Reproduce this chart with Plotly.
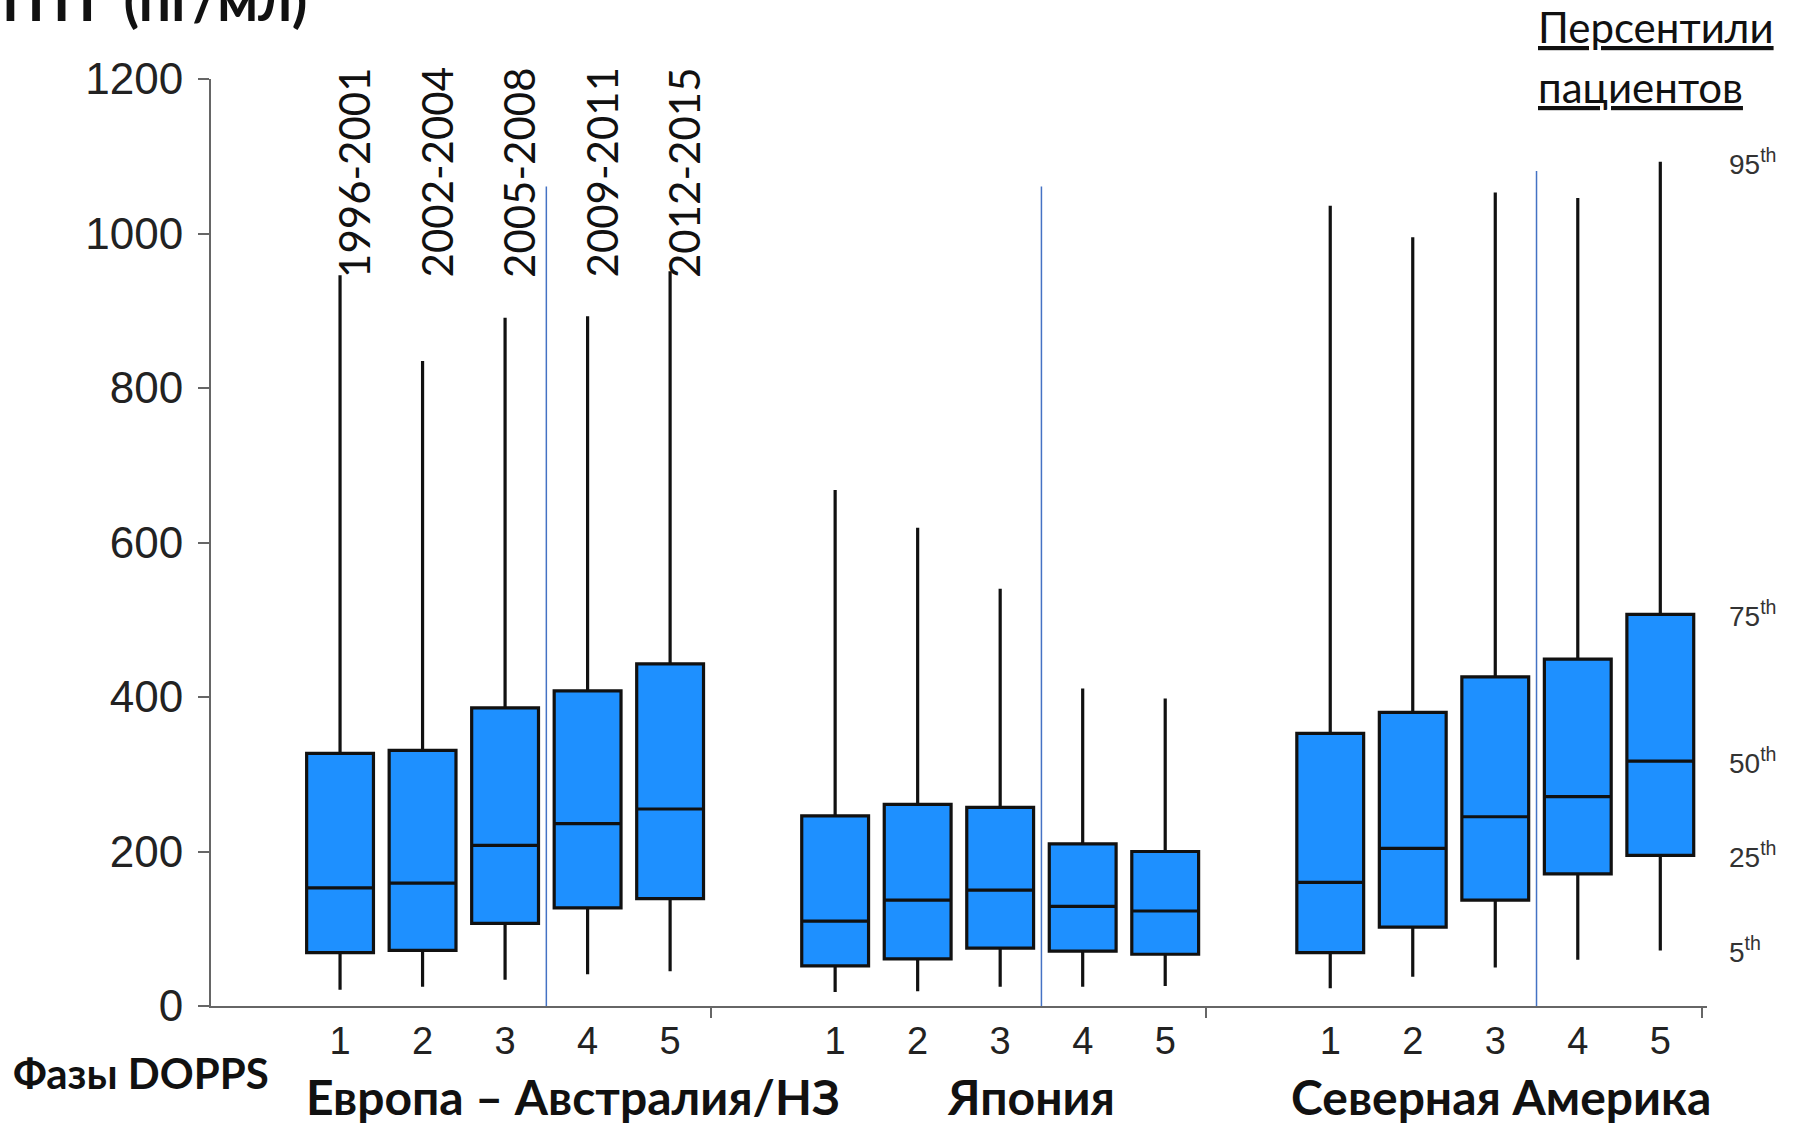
import plotly.graph_objects as go

# ---------------- data ----------------
regions = ["Европа – Австралия/НЗ", "Япония", "Северная Америка"]
phases = ["1", "2", "3", "4", "5"]
phase_years = ["1996-2001", "2002-2004", "2005-2008", "2009-2011", "2012-2015"]

# percentiles of PTH (pg/ml) per phase, for each region
eu_p5 = [21, 25, 34, 41, 45]
eu_p25 = [69, 72, 107, 127, 139]
eu_p50 = [153, 159, 208, 236, 255]
eu_p75 = [327, 331, 386, 408, 443]
eu_p95 = [946, 835, 891, 893, 951]

jp_p5 = [18, 19, 25, 25, 26]
jp_p25 = [52, 61, 75, 71, 67]
jp_p50 = [110, 137, 150, 129, 123]
jp_p75 = [246, 261, 257, 210, 200]
jp_p95 = [668, 619, 540, 411, 398]

na_p5 = [23, 38, 50, 60, 72]
na_p25 = [69, 102, 137, 171, 195]
na_p50 = [160, 204, 245, 271, 317]
na_p75 = [353, 380, 426, 449, 507]
na_p95 = [1036, 995, 1053, 1046, 1093]

percentile_names = ["95", "75", "50", "25", "5"]

y_ticks = [0, 200, 400, 600, 800, 1000, 1200]

# layout helpers (positions of groups on the continuous x axis)
group_starts = [1, 7, 13]
group_ends = [5.5, 11.5, 17.5]
divider_x = [3.5, 9.5, 15.5]
divider_top = [1061, 1061, 1081]

# ---------------- build ----------------
xs, q1, med, q3, lo, hi, labels = [], [], [], [], [], [], []
stats = [
    (eu_p5, eu_p25, eu_p50, eu_p75, eu_p95),
    (jp_p5, jp_p25, jp_p50, jp_p75, jp_p95),
    (na_p5, na_p25, na_p50, na_p75, na_p95),
]
for g, (p5, p25, p50, p75, p95) in zip(group_starts, stats):
    for i in range(len(phases)):
        xs.append(g + i)
        lo.append(p5[i]); q1.append(p25[i]); med.append(p50[i])
        q3.append(p75[i]); hi.append(p95[i])
        labels.append(phases[i])

BLUE = "#1E90FF"
fig = go.Figure()
fig.add_trace(go.Box(
    x=xs, q1=q1, median=med, q3=q3, lowerfence=lo, upperfence=hi,
    width=0.81, whiskerwidth=0, boxpoints=False,
    fillcolor=BLUE, line=dict(color="#111111", width=3.2),
    hoverinfo="skip", showlegend=False,
))

shapes = []
for dx, dt in zip(divider_x, divider_top):
    shapes.append(dict(type="line", xref="x", yref="y", x0=dx, x1=dx, y0=0, y1=dt,
                       line=dict(color="#4472C4", width=1.5), layer="below"))

annotations = []
# phase years (rotated) over first group
for i, yr in enumerate(phase_years):
    annotations.append(dict(
        x=group_starts[0] + i + 0.17, y=940, xref="x", yref="y",
        text=yr, textangle=-90, showarrow=False,
        xanchor="center", yanchor="bottom",
        font=dict(family="Lato, Open Sans, sans-serif", size=42, color="#111"),
    ))

# percentile labels on the right, at the last North America box
na_last = [na_p95[-1], na_p75[-1], na_p50[-1], na_p25[-1], na_p5[-1]]
for name, val in zip(percentile_names, na_last):
    annotations.append(dict(
        x=1.0134, y=val, xref="paper", yref="y",
        text=f"{name}<sup>th</sup>", showarrow=False,
        xanchor="left", yanchor="middle",
        font=dict(family="Liberation Sans, Arial, sans-serif", size=28, color="#333"),
    ))

# header "Персентили пациентов"
for txt, yy in [("Персентили", 1.056), ("пациентов", 0.991)]:
    annotations.append(dict(
        x=0.886, y=yy, xref="paper", yref="paper", text=txt, showarrow=False,
        xanchor="left", yanchor="middle",
        font=dict(family="Lato, Open Sans, sans-serif", size=42, color="#111",
                  lineposition="under"),
    ))

# title (cut off at the top)
annotations.append(dict(
    x=-0.141, y=1.047, xref="paper", yref="paper", text="<b>ПТГ (пг/мл)</b>",
    showarrow=False, xanchor="left", yanchor="bottom",
    font=dict(family="Lato, Open Sans, sans-serif", size=57, color="#111"),
))

# bottom labels
annotations.append(dict(
    x=-0.1337, y=-0.0723, xref="paper", yref="paper", text="<b>Фазы DOPPS</b>",
    showarrow=False, xanchor="left", yanchor="middle",
    font=dict(family="Lato, Open Sans, sans-serif", size=42, color="#111"),
))
for txt, px in zip(regions, [0.242, 0.548, 0.862]):
    annotations.append(dict(
        x=px, y=-0.098, xref="paper", yref="paper", text=f"<b>{txt}</b>",
        showarrow=False, xanchor="center", yanchor="middle",
        font=dict(family="Lato, Open Sans, sans-serif", size=48, color="#111"),
    ))

fig.update_layout(
    width=1796, height=1124,
    margin=dict(l=211, r=89, t=79, b=118),
    paper_bgcolor="white", plot_bgcolor="white",
    shapes=shapes, annotations=annotations,
    xaxis=dict(
        range=[-0.564, 17.566], tickmode="array", tickvals=xs, ticktext=labels,
        ticks="", showgrid=False, zeroline=False,
        showline=True, linecolor="#666", linewidth=2,
        tickfont=dict(family="Liberation Sans, Arial, sans-serif", size=38, color="#222"),
        ticklabelstandoff=0,
        minor=dict(tickmode="array", tickvals=group_ends, ticks="outside",
                   ticklen=10, tickcolor="#666", tickwidth=2, showgrid=False),
    ),
    yaxis=dict(
        range=[0, 1200], tickmode="array", tickvals=y_ticks,
        ticks="outside", ticklen=11, tickcolor="#666", tickwidth=2,
        showgrid=False, zeroline=False,
        showline=True, linecolor="#666", linewidth=2,
        tickfont=dict(family="Liberation Sans, Arial, sans-serif", size=44, color="#222"),
        ticklabelstandoff=6,
    ),
)

fig.write_html("out.html")
